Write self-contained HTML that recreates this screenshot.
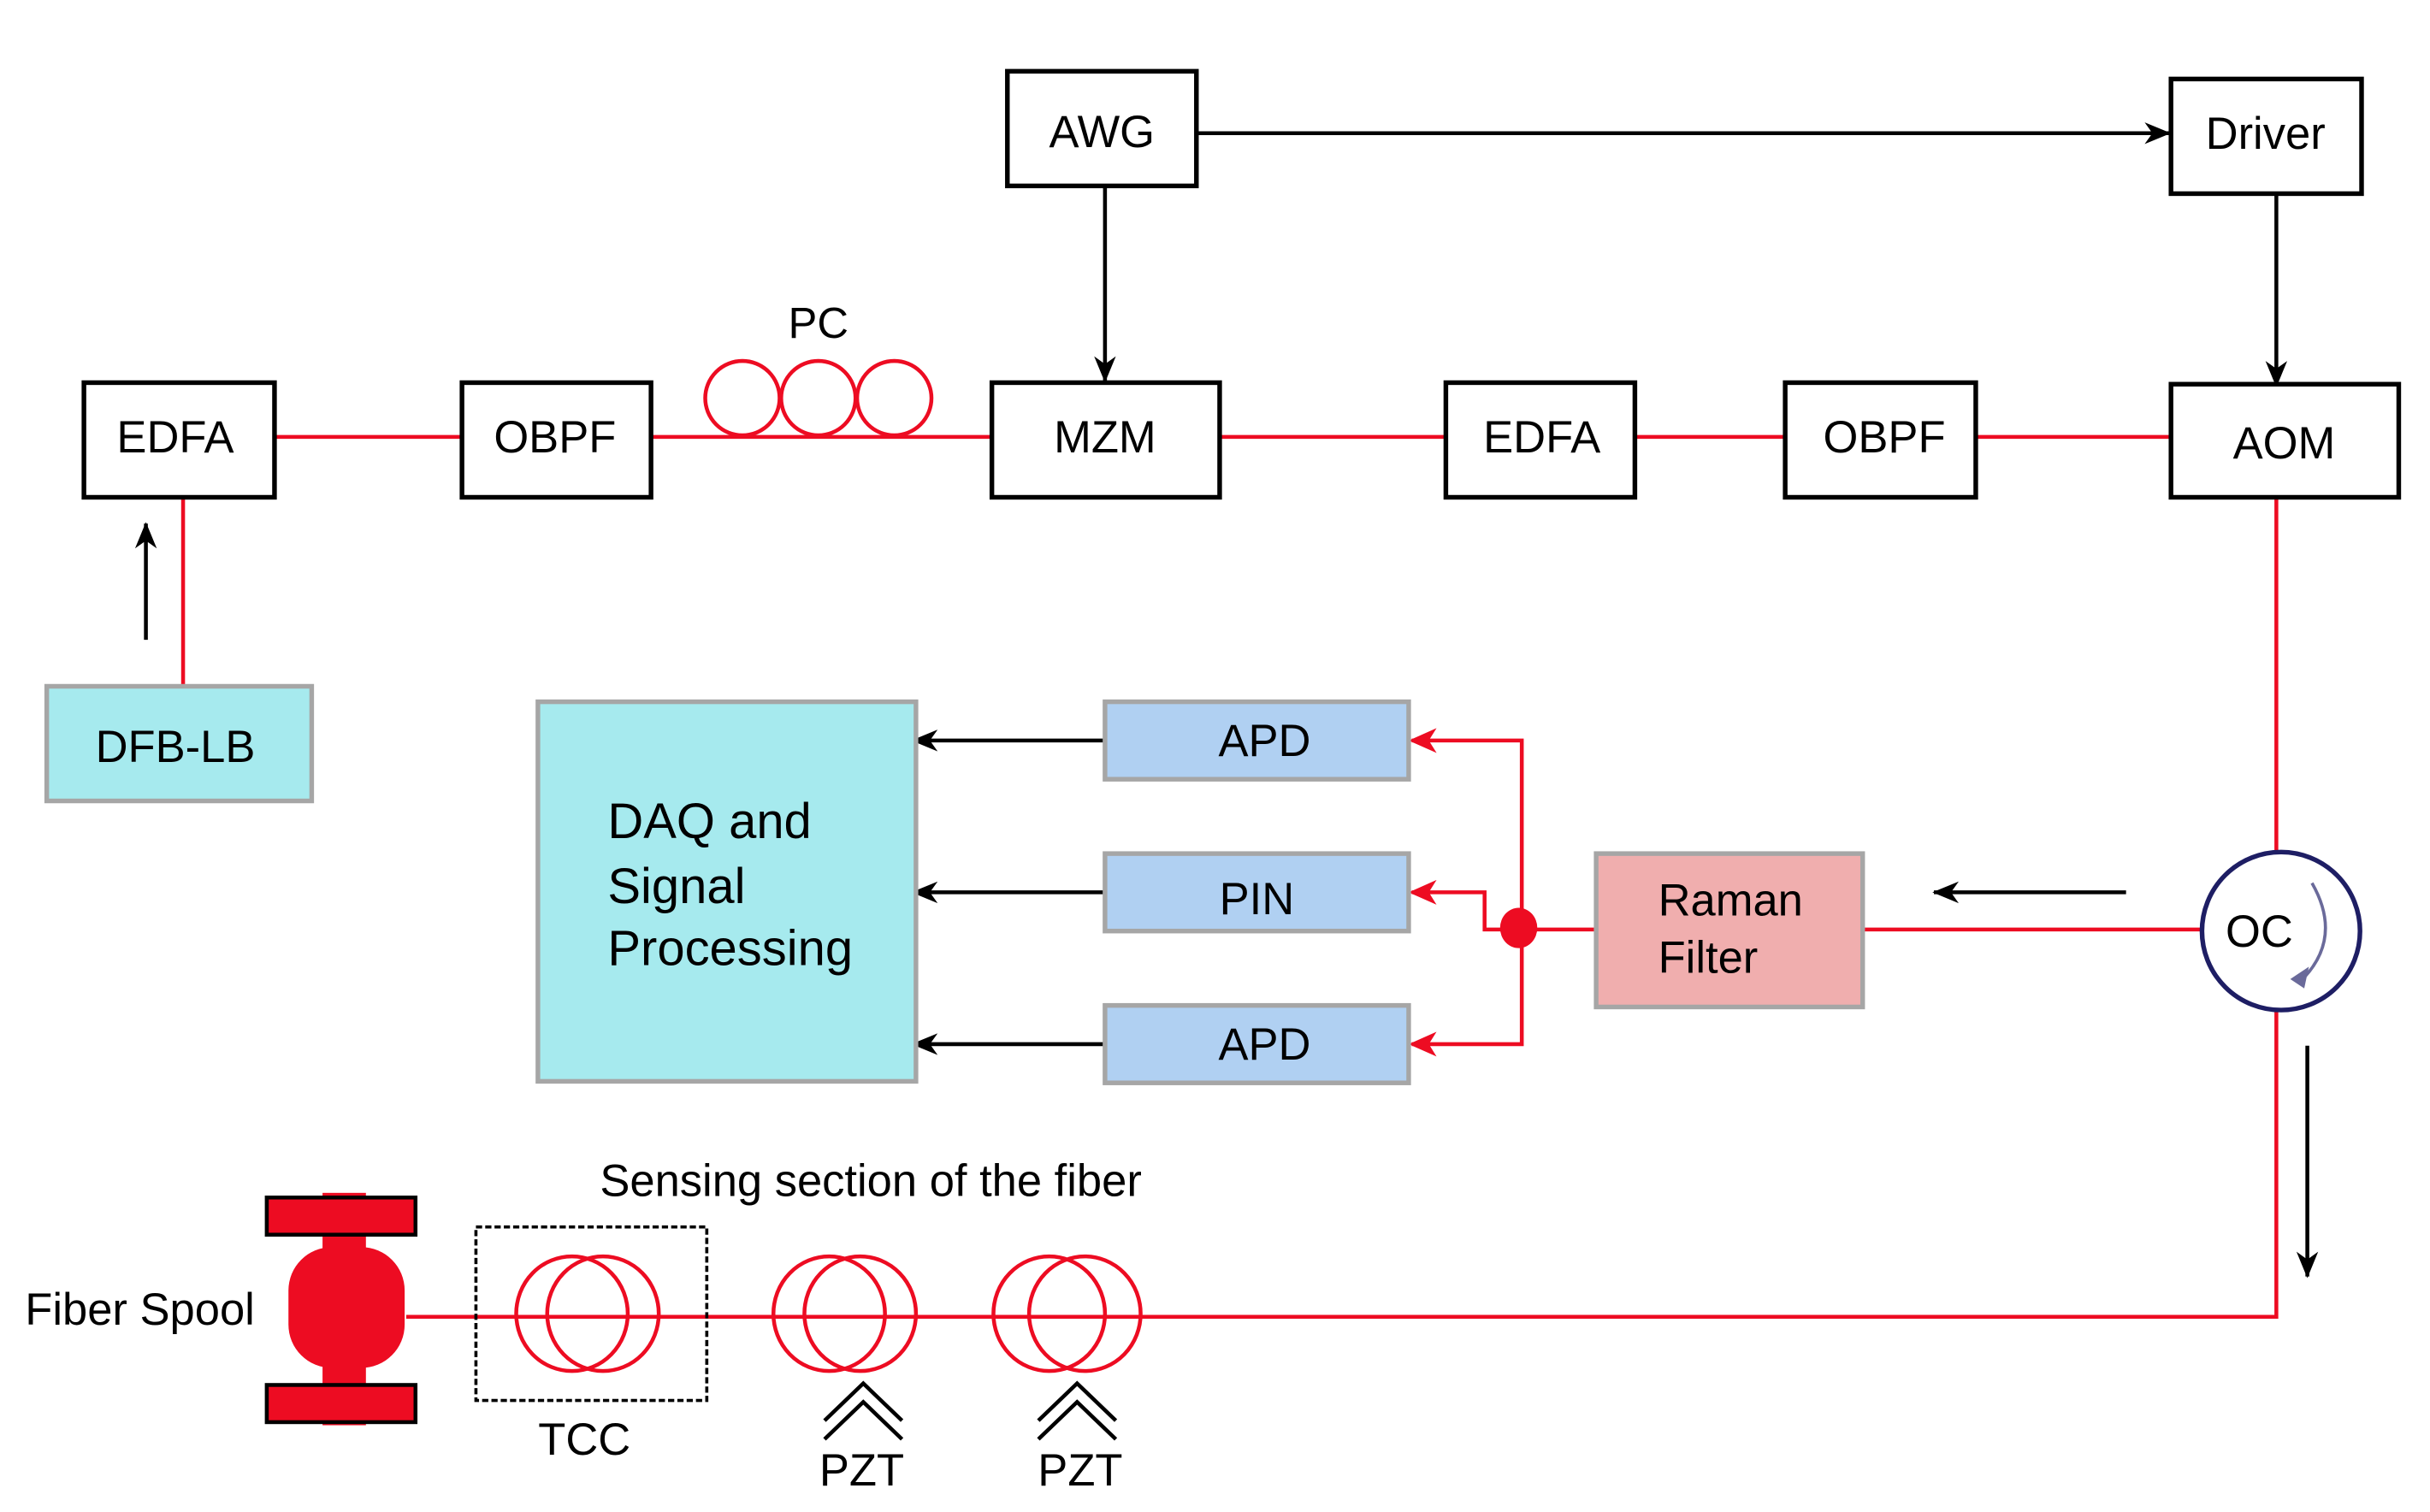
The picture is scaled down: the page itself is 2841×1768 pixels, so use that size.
<!DOCTYPE html>
<html><head><meta charset="utf-8"><style>html,body{margin:0;padding:0;background:#fff}svg{display:block}</style></head>
<body>
<svg width="2841" height="1768" viewBox="0 0 1568 976" xmlns="http://www.w3.org/2000/svg" font-family="Liberation Sans, Arial, sans-serif">
<defs>
<marker id="ar" markerWidth="20" markerHeight="16" refX="16" refY="8" orient="auto" markerUnits="userSpaceOnUse"><path d="M0,0 L18,8 L0,16 L5,8 Z" fill="#ed0c22"/></marker>
<marker id="ak" markerWidth="20" markerHeight="16" refX="16" refY="8" orient="auto" markerUnits="userSpaceOnUse"><path d="M0,1 L17,8 L0,15 L5,8 Z" fill="#000"/></marker>
</defs>
<g stroke="#ed0c22" stroke-width="2.5" fill="none">
<line x1="177" y1="282" x2="1401" y2="282"/>
<line x1="118" y1="321" x2="118" y2="443"/>
<line x1="1469" y1="321" x2="1469" y2="549"/>
<polyline points="1469,653 1469,850 262,850"/>
<line x1="1202" y1="600" x2="1421" y2="600"/>
<line x1="980" y1="600" x2="1030" y2="600"/>
<polyline points="982,600 982,478 911,478" marker-end="url(#ar)"/>
<polyline points="982,600 982,674 911,674" marker-end="url(#ar)"/>
<polyline points="970,600 958,600 958,576 911,576" marker-end="url(#ar)"/>
<circle cx="479" cy="257" r="24"/><circle cx="528" cy="257" r="24"/><circle cx="577" cy="257" r="24"/>
<ellipse cx="369" cy="848" rx="36" ry="37"/><ellipse cx="389" cy="848" rx="36" ry="37"/>
<ellipse cx="535" cy="848" rx="36" ry="37"/><ellipse cx="555" cy="848" rx="36" ry="37"/>
<ellipse cx="677" cy="848" rx="36" ry="37"/><ellipse cx="700" cy="848" rx="36" ry="37"/>
</g>
<ellipse cx="980" cy="599" rx="12" ry="13" fill="#ed0c22"/>
<rect x="208" y="770" width="28" height="150" fill="#ed0c22"/>
<rect x="186" y="805" width="75" height="78" rx="28" fill="#ed0c22"/>
<rect x="172" y="773" width="96" height="24" fill="#ed0c22" stroke="#000" stroke-width="2.5"/>
<rect x="172" y="894" width="96" height="24" fill="#ed0c22" stroke="#000" stroke-width="2.5"/>
<rect x="307" y="792" width="149" height="112" fill="none" stroke="#000" stroke-width="2" stroke-dasharray="4,2"/>
<g stroke="#000" stroke-width="2.5" fill="none">
<line x1="772" y1="86" x2="1400" y2="86" marker-end="url(#ak)"/>
<line x1="713" y1="120" x2="713" y2="246" marker-end="url(#ak)"/>
<line x1="1469" y1="125" x2="1469" y2="249" marker-end="url(#ak)"/>
<line x1="94" y1="413" x2="94" y2="338" marker-end="url(#ak)"/>
<line x1="713" y1="478" x2="589" y2="478" marker-end="url(#ak)"/>
<line x1="713" y1="576" x2="589" y2="576" marker-end="url(#ak)"/>
<line x1="713" y1="674" x2="589" y2="674" marker-end="url(#ak)"/>
<line x1="1372" y1="576" x2="1248" y2="576" marker-end="url(#ak)"/>
<line x1="1489" y1="675" x2="1489" y2="824" marker-end="url(#ak)"/>
<polyline points="532,917 557,893 582,917"/><polyline points="532,929 557,905 582,929"/>
<polyline points="670,917 695,893 720,917"/><polyline points="670,929 695,905 720,929"/>
</g>
<g stroke="#000" stroke-width="3" fill="#fff">
<rect x="650" y="46" width="122" height="74"/>
<rect x="1401" y="51" width="123" height="74"/>
<rect x="54" y="247" width="123" height="74"/>
<rect x="298" y="247" width="122" height="74"/>
<rect x="640" y="247" width="147" height="74"/>
<rect x="933" y="247" width="122" height="74"/>
<rect x="1152" y="247" width="123" height="74"/>
<rect x="1401" y="248" width="147" height="73"/>
</g>
<g stroke="#a6a6a6" stroke-width="3">
<rect x="30" y="443" width="171" height="74" fill="#a6eaee"/>
<rect x="347" y="453" width="244" height="245" fill="#a6eaee"/>
<rect x="713" y="453" width="196" height="50" fill="#b0d0f2"/>
<rect x="713" y="551" width="196" height="50" fill="#b0d0f2"/>
<rect x="713" y="649" width="196" height="50" fill="#b0d0f2"/>
<rect x="1030" y="551" width="172" height="99" fill="#f0aeae"/>
</g>
<circle cx="1472" cy="601" r="51" fill="#fff" stroke="#1e1e64" stroke-width="3"/>
<path d="M1492,570 Q1512,605 1486,632" fill="none" stroke="#6a6a9a" stroke-width="2"/>
<path d="M1478,632 L1490,624 L1487,638 Z" fill="#6a6a9a"/>
<g font-size="29" fill="#000" text-anchor="middle">
<text x="711" y="95">AWG</text>
<text x="1462" y="96">Driver</text>
<text x="113" y="292">EDFA</text>
<text x="358" y="292">OBPF</text>
<text x="713" y="292">MZM</text>
<text x="995" y="292">EDFA</text>
<text x="1216" y="292">OBPF</text>
<text x="1474" y="296">AOM</text>
<text x="113" y="492">DFB-LB</text>
<text x="816" y="488">APD</text>
<text x="811" y="590">PIN</text>
<text x="816" y="684">APD</text>
<text x="1458" y="611">OC</text>
<text x="528" y="218" font-size="28">PC</text>
<text x="377" y="939" font-size="29">TCC</text>
<text x="556" y="959" font-size="29">PZT</text>
<text x="697" y="959" font-size="29">PZT</text>
</g>
<g font-size="32" fill="#000">
<text x="392" y="541">DAQ and</text>
<text x="392" y="583">Signal</text>
<text x="392" y="623">Processing</text>
<text x="1070" y="591" font-size="29">Raman</text>
<text x="1070" y="628" font-size="29">Filter</text>
<text x="387" y="772" font-size="29">Sensing section of the fiber</text>
<text x="16" y="855" font-size="29">Fiber Spool</text>
</g>
</svg>
</body></html>
